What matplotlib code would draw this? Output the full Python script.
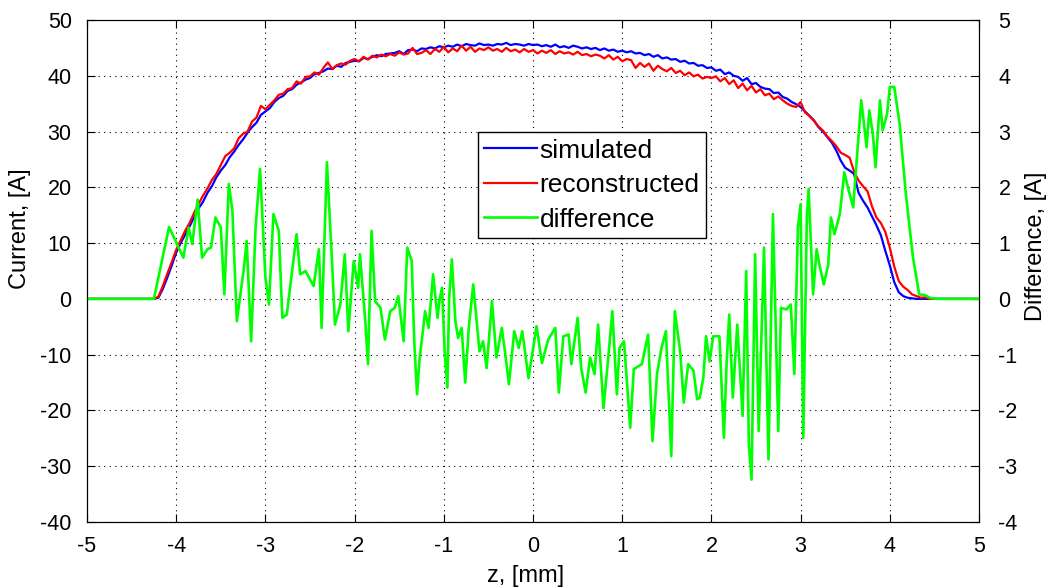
import numpy as np
import matplotlib
matplotlib.use("Agg")
import matplotlib.pyplot as plt

plt.rcParams['font.family'] = ['Liberation Sans', 'DejaVu Sans']

# ---- data -------------------------------------------------------------
# current profiles sampled every 0.05 mm from -4.25 to 4.45 mm
z_start, z_stop, z_step = -4.25, 4.45, 0.05

simulated = [
    0.0, 0.2, 1.8, 3.8, 6.0, 8.3, 10.0, 11.5, 13.0, 14.6,
    16.2, 17.4, 19.0, 20.2, 21.8, 23.0, 24.0, 25.4, 26.4, 27.6,
    28.6, 29.8, 30.8, 31.6, 33.0, 33.6, 34.2, 35.3, 36.0, 36.4,
    37.3, 37.6, 38.4, 38.8, 39.3, 39.6, 40.3, 40.5, 40.8, 41.3,
    41.2, 41.8, 41.6, 42.3, 42.5, 42.7, 42.6, 43.2, 43.0, 43.4,
    43.7, 43.5, 43.9, 44.0, 44.1, 44.4, 43.9, 44.6, 44.7, 44.4,
    44.9, 44.8, 45.1, 44.9, 45.3, 45.1, 45.4, 45.2, 45.6, 45.3,
    45.7, 45.5, 45.4, 45.8, 45.5, 45.6, 45.4, 45.7, 45.6, 45.9,
    45.5, 45.7, 45.6, 45.4, 45.7, 45.5, 45.6, 45.3, 45.5, 45.2,
    45.6, 45.1, 45.3, 45.0, 45.4, 45.2, 44.9, 45.1, 44.8, 45.0,
    44.6, 44.9, 44.5, 44.7, 44.3, 44.5, 44.2, 44.4, 44.0, 44.1,
    43.7, 43.9, 43.4, 43.7, 43.1, 43.3, 42.9, 43.0, 42.5, 42.7,
    42.2, 42.3, 41.8, 41.9, 41.4, 41.5, 40.9, 41.1, 40.3, 40.6,
    40.0, 39.8, 39.1, 39.6, 38.5, 38.7, 38.0, 37.7, 37.6, 36.9,
    37.0, 36.2, 35.9, 35.3, 34.9, 34.4, 33.6, 32.8, 32.0, 30.8,
    30.0, 29.0, 28.0, 26.6, 24.8, 23.5, 23.0, 22.4, 19.0, 17.6,
    16.4, 14.8, 13.2, 11.4, 8.6, 6.0, 3.0, 1.2, 0.5, 0.2,
    0.1, 0.0, 0.0, 0.0, 0.0,
]

reconstructed = [
    0.0, 0.4, 2.3, 4.5, 6.6, 8.8, 10.5, 12.2, 13.6, 15.4,
    17.0, 18.5, 19.8, 21.3, 22.4, 24.0, 25.6, 26.2, 27.0, 28.8,
    29.6, 30.0, 31.8, 32.5, 34.6, 34.0, 34.8, 35.6, 36.6, 36.8,
    37.6, 37.8, 39.0, 38.6, 39.8, 39.9, 40.6, 40.2, 41.4, 42.4,
    41.2, 41.9, 42.2, 42.0, 42.7, 43.0, 42.6, 43.4, 42.9, 43.6,
    43.3, 43.8, 43.5, 43.9, 43.6, 44.2, 43.8, 44.0, 45.0, 43.9,
    44.1, 44.6, 43.9, 44.8, 44.3, 45.2, 44.2, 44.9, 44.4, 45.4,
    44.5, 45.2, 44.3, 44.9, 44.6, 45.1, 44.5, 44.8, 44.3, 45.0,
    44.4, 44.7, 44.2, 44.8, 44.3, 44.6, 44.0, 44.5, 44.1, 44.6,
    43.9, 44.4, 44.0, 44.2, 43.8, 44.3, 43.7, 43.9, 43.5, 43.8,
    43.6, 43.1, 43.7, 42.9, 43.4, 42.6, 43.0, 42.8, 41.4, 42.3,
    41.6, 42.2, 40.9, 41.8, 41.2, 40.8, 41.4, 40.5, 40.9, 40.1,
    40.6, 39.9, 40.2, 39.5, 39.8, 39.6, 39.9, 39.0, 39.6, 38.5,
    39.2, 37.8, 38.6, 37.4, 38.2, 37.0, 37.6, 36.5, 36.8, 35.8,
    36.3, 35.6, 35.0, 34.6, 34.4, 35.3, 33.4, 32.8, 31.9, 30.9,
    30.2, 29.1, 28.3, 27.4, 26.2, 25.8, 25.3, 22.8, 21.2, 20.2,
    19.3, 16.6, 14.6, 13.6, 12.0, 9.2, 5.8, 3.2, 2.2, 1.6,
    0.8, 0.5, 0.2, 0.3, 0.0,
]

# difference (right axis), read at irregular z positions
diff_z = [
    -5.00, -4.25, -4.08, -3.92, -3.86, -3.82, -3.76, -3.71, -3.65, -3.61,
    -3.56, -3.50, -3.46, -3.41, -3.37, -3.32, -3.24, -3.21, -3.16, -3.11,
    -3.06, -3.00, -2.96, -2.91, -2.85, -2.81, -2.76, -2.65, -2.61, -2.55,
    -2.46, -2.40, -2.37, -2.31, -2.25, -2.22, -2.16, -2.11, -2.07, -2.01,
    -1.96, -1.94, -1.88, -1.85, -1.81, -1.77, -1.71, -1.66, -1.60, -1.55,
    -1.51, -1.45, -1.41, -1.36, -1.33, -1.30, -1.27, -1.23, -1.21, -1.17,
    -1.12, -1.07, -1.05, -1.02, -0.99, -0.96, -0.94, -0.91, -0.87, -0.84,
    -0.80, -0.76, -0.72, -0.67, -0.60, -0.56, -0.52, -0.46, -0.41, -0.35,
    -0.31, -0.27, -0.21, -0.16, -0.12, -0.05, 0.04, 0.10, 0.17, 0.25,
    0.29, 0.34, 0.40, 0.43, 0.50, 0.54, 0.59, 0.64, 0.69, 0.73,
    0.79, 0.84, 0.89, 0.94, 0.97, 1.02, 1.09, 1.13, 1.22, 1.29,
    1.34, 1.39, 1.44, 1.49, 1.55, 1.59, 1.65, 1.69, 1.74, 1.80,
    1.84, 1.87, 1.91, 1.94, 1.98, 2.02, 2.09, 2.14, 2.17, 2.20,
    2.24, 2.29, 2.35, 2.39, 2.42, 2.45, 2.49, 2.53, 2.59, 2.64,
    2.69, 2.75, 2.78, 2.84, 2.89, 2.93, 2.97, 3.00, 3.03, 3.07,
    3.09, 3.14, 3.18, 3.21, 3.26, 3.31, 3.34, 3.38, 3.44, 3.49,
    3.54, 3.59, 3.62, 3.68, 3.74, 3.77, 3.81, 3.84, 3.89, 3.92,
    3.97, 4.00, 4.05, 4.11, 4.18, 4.26, 4.33, 4.39, 4.45, 4.52,
    5.00,
]
diff_val = [
    0.00, 0.00, 1.29, 0.74, 1.28, 0.98, 1.78, 0.74, 0.89, 0.92,
    1.46, 1.28, 0.08, 2.06, 1.58, -0.40, 0.56, 1.04, -0.76, 1.28,
    2.33, 0.38, -0.10, 1.52, 1.22, -0.34, -0.28, 1.16, 0.44, 0.50,
    0.23, 0.89, -0.52, 2.45, 0.56, -0.46, -0.10, 0.80, -0.58, 0.68,
    0.20, 0.80, -0.40, -1.17, 1.22, -0.04, -0.16, -0.73, -0.22, -0.16,
    0.05, -0.76, 0.92, 0.68, -0.81, -1.71, -1.05, -0.52, -0.22, -0.52,
    0.44, -0.34, -0.04, 0.20, -0.94, -1.59, 0.02, 0.71, -0.40, -0.70,
    -0.52, -1.50, -0.52, 0.26, -0.94, -0.76, -1.24, -0.04, -1.05, -0.52,
    -1.00, -1.53, -0.58, -0.88, -0.58, -1.42, -0.49, -1.15, -0.73, -0.52,
    -1.68, -0.67, -0.64, -1.17, -0.34, -1.24, -1.68, -1.05, -1.35, -0.46,
    -1.96, -1.12, -0.22, -1.71, -0.88, -0.76, -2.31, -1.26, -1.17, -0.64,
    -2.55, -1.35, -0.88, -0.58, -2.82, -0.22, -0.94, -1.86, -1.17, -1.29,
    -1.80, -1.77, -1.41, -0.67, -1.12, -0.67, -0.67, -2.49, -1.17, -0.28,
    -1.77, -0.46, -2.10, 0.50, -2.61, -3.24, 0.80, -2.37, 0.92, -2.88,
    1.52, -2.37, -0.16, -0.19, -0.10, -1.35, 1.28, 1.70, -2.49, 1.46,
    1.97, 0.08, 0.89, 0.62, 0.26, 0.62, 1.46, 1.16, 1.52, 2.27,
    1.94, 1.64, 2.30, 3.56, 2.72, 3.38, 2.96, 2.36, 3.56, 3.02,
    3.32, 3.80, 3.80, 3.14, 1.88, 0.74, 0.08, 0.07, 0.02, 0.00,
    0.00,
]

x_ticks = [-5, -4, -3, -2, -1, 0, 1, 2, 3, 4, 5]
left_ticks = [-40, -30, -20, -10, 0, 10, 20, 30, 40, 50]
right_ticks = [-4, -3, -2, -1, 0, 1, 2, 3, 4, 5]
labels = ["simulated", "reconstructed", "difference"]

# ---- plot -------------------------------------------------------------
n = len(simulated)
z_cur = np.round(z_start + z_step * np.arange(n), 3)
z_cur = np.concatenate([[-5.0], z_cur, [5.0]])
sim = np.concatenate([[0.0], simulated, [0.0]])
rec = np.concatenate([[0.0], reconstructed, [0.0]])

fig = plt.figure(figsize=(10.49, 5.88), dpi=100)
ax = fig.add_axes([87/1049, 1 - 522/588, 892/1049, 502/588])
ax2 = ax.twinx()

l1, = ax.plot(z_cur, sim, color=(0, 0, 1), lw=1.6)
l2, = ax.plot(z_cur, rec, color=(1, 0, 0), lw=1.6)
l3, = ax2.plot(diff_z, diff_val, color=(0, 1, 0), lw=1.9)

ax.set_xlim(-5, 5)
ax.set_ylim(-40, 50)
ax2.set_ylim(-4, 5)
ax.set_xticks(x_ticks)
ax.set_yticks(left_ticks)
ax2.set_yticks(right_ticks)
ax.set_xticklabels([str(t) for t in x_ticks])
ax.set_yticklabels([str(t) for t in left_ticks])
ax2.set_yticklabels([str(t) for t in right_ticks])

ax.grid(True, color='black', linestyle=(0, (1, 4)), linewidth=0.8)
ax.tick_params(axis='x', direction='in', labelsize=15.5, length=6,
               top=True, width=0.8, pad=10)
ax.tick_params(axis='y', direction='in', labelsize=15.5, length=6,
               width=0.8, pad=11)
ax2.tick_params(axis='y', direction='in', labelsize=15.5, length=6,
                width=0.8, pad=14)
for a in (ax, ax2):
    for s in a.spines.values():
        s.set_linewidth(0.8)

ax.set_xlabel("z, [mm]", fontsize=17)
ax.set_ylabel("Current, [A]", fontsize=17)
ax2.set_ylabel("Difference, [A]", fontsize=17)
ax.xaxis.set_label_coords(0.492, -0.085)
ax.yaxis.set_label_coords(-0.063, 0.585)
ax2.yaxis.set_label_coords(1.052, 0.55)

leg = ax2.legend([l1, l2, l3], labels, loc='upper left',
                 bbox_to_anchor=(0.438, 0.777), borderaxespad=0,
                 fontsize=19, frameon=True, fancybox=False,
                 edgecolor='black', framealpha=1, handlelength=2.0,
                 handletextpad=0.1, borderpad=0.25, labelspacing=0.4)
leg.get_frame().set_linewidth(1.0)

fig.savefig("out.png", dpi=100)
